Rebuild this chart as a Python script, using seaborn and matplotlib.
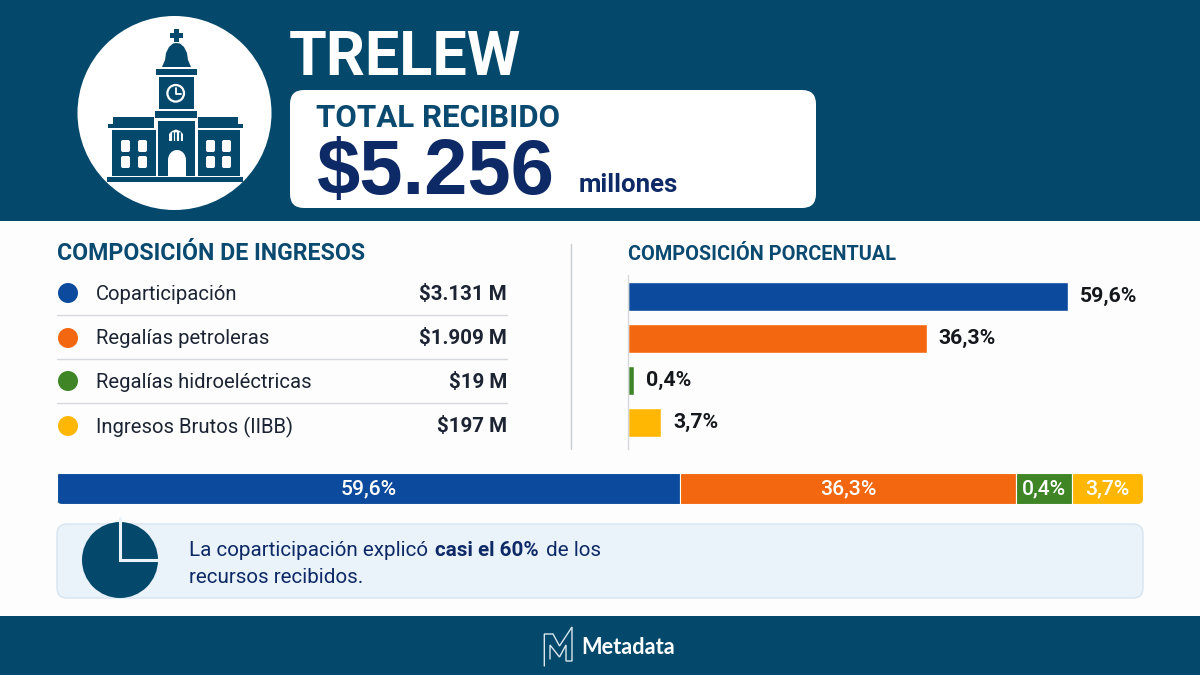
import numpy as np
import matplotlib
matplotlib.use("Agg")
import matplotlib.pyplot as plt
import seaborn as sns
from matplotlib.patches import Circle, Rectangle, FancyBboxPatch, Polygon, Ellipse

# data
categories = ["Coparticipación", "Regalías petroleras", "Regalías hidroeléctricas", "Ingresos Brutos (IIBB)"]
amounts = ["$3.131 M", "$1.909 M", "$19 M", "$197 M"]
pct_labels = ["59,6%", "36,3%", "0,4%", "3,7%"]
# bar lengths as drawn in the source (they are not to scale with the labels)
bar_lengths = [59.6, 40.5, 0.8, 4.5]
strip_lengths = [57.4, 30.9, 5.2, 6.5]
colors = ["#0B4A9C", "#F2670F", "#3F8526", "#FFB703"]

NAVY = "#04496B"
INK = "#0E2A66"
BG = "#FDFDFD"
ROBOTO = ["Roboto", "DejaVu Sans"]

sns.set_theme(style="white")
plt.rcParams["font.family"] = ["Inter", "DejaVu Sans"]

fig = plt.figure(figsize=(12, 6.75), dpi=100, facecolor=BG)


def px_axes(x0, y0, x1, y1):
    # axes from pixel box, y measured from the top
    return fig.add_axes([x0 / 1200, 1 - y1 / 675, (x1 - x0) / 1200, (y1 - y0) / 675])


bg = fig.add_axes([0, 0, 1, 1], zorder=0)
bg.set_xlim(0, 1200)
bg.set_ylim(675, 0)
bg.axis("off")

# header, footer
bg.add_patch(Rectangle((0, 0), 1200, 221, fc=NAVY, ec="none"))
bg.add_patch(Rectangle((0, 616), 1200, 59, fc=NAVY, ec="none"))

# building icon
bg.add_patch(Circle((174.5, 113), 97, fc="white", ec="none"))
blocks = [
    (107, 177, 136, 5), (108, 124, 46, 4), (113, 117, 41, 7), (112, 130, 44, 46),
    (198, 124, 45, 4), (198, 117, 40, 7), (198, 130, 42, 46),
    (158, 121, 37, 55), (155, 111, 42, 7), (159, 77, 35, 32), (156, 69, 41, 6),
    (174, 29, 5, 13), (170, 33, 13, 5),
]
for x, y, w, h in blocks:
    bg.add_patch(Rectangle((x, y), w, h, fc=NAVY, ec="none"))
bg.add_patch(Polygon([(162, 67), (165, 60), (166, 53), (169, 47), (173, 43.5), (176, 43), (180, 43.5),
                      (184, 47), (187, 53), (188, 60), (191, 67)], fc=NAVY, ec="none"))
for wx in [121, 138, 206, 222]:
    for wy in [140, 156]:
        bg.add_patch(FancyBboxPatch((wx + 2, wy + 2), 5, 8, boxstyle="round,pad=2", fc="white", ec="none"))
# door and small arch
bg.add_patch(Rectangle((168, 160), 18, 16, fc="white", ec="none"))
bg.add_patch(Ellipse((177, 160), 18, 20, fc="white", ec="none"))
bg.add_patch(Polygon([(169, 141), (169, 134), (172, 131), (176, 129.5), (180, 131), (183, 134), (183, 141)],
                     fc="white", ec="none"))
for hx in [172.5, 176, 179.5]:
    bg.plot([hx, hx], [133, 142], color=NAVY, lw=1.3)
# clock
bg.add_patch(Circle((175.7, 93.3), 8.3, fc=NAVY, ec="white", lw=1.6))
bg.plot([175.7, 175.7, 180.5], [88, 94, 94], color="white", lw=1.3)

# title and total box
bg.text(289, 75, "TRELEW", fontsize=44, fontweight="bold", color="white", family=ROBOTO)
bg.add_patch(FancyBboxPatch((304, 104), 498, 90, boxstyle="round,pad=14,rounding_size=14", fc="white", ec="none"))
bg.text(316, 127, "TOTAL RECIBIDO", fontsize=22.5, fontweight="bold", color="#0B4A70", family=ROBOTO)
bg.text(317, 194, "$5.256", fontsize=56, fontweight="bold", color=INK, family=["Liberation Sans", "DejaVu Sans"])
bg.text(579, 192, "millones", fontsize=18.5, fontweight="bold", color=INK, family=ROBOTO)

# left list
bg.text(57, 260, "COMPOSICIÓN DE INGRESOS", fontsize=16.7, fontweight="bold", color="#0B4A70", family=ROBOTO)
bg.text(628, 260, "COMPOSICIÓN PORCENTUAL", fontsize=14.3, fontweight="bold", color="#0B4A70", family=ROBOTO)
row_y = [294, 339, 382, 427]
for i, name in enumerate(categories):
    bg.add_patch(Circle((68, row_y[i] - 1), 10, fc=colors[i], ec="none"))
    bg.text(96, row_y[i], name, fontsize=14.6, color="#1C2433", va="center", family=ROBOTO)
    bg.text(507, row_y[i], amounts[i], fontsize=14.8, fontweight="bold", color="#1C2433", va="center", ha="right",
            family=ROBOTO)
for sy in [315, 359, 403]:
    bg.plot([57, 507], [sy, sy], color="#D5D8DC", lw=1)
bg.plot([571, 571], [244, 449], color="#C9CCD0", lw=1)

# note panel with pie icon
bg.add_patch(FancyBboxPatch((65, 532), 1070, 58, boxstyle="round,pad=8,rounding_size=10", fc="#EAF2FA", ec="#D6E4F0", lw=1))
bg.add_patch(Circle((120, 560), 38, fc=NAVY, ec="none"))
bg.plot([120, 120, 159], [518, 560, 560], color="#EAF2FA", lw=2.2, solid_joinstyle="miter")
bg.text(189, 556, "La coparticipación explicó", fontsize=14.9, color=INK, family=ROBOTO)
bg.text(435, 556, "casi el 60%", fontsize=14.9, fontweight="bold", color=INK, family=ROBOTO)
bg.text(546, 556, "de los", fontsize=14.9, color=INK, family=ROBOTO)
bg.text(189, 583, "recursos recibidos.", fontsize=14.9, color=INK, family=ROBOTO)

# footer logo
logo_x = [544.3, 544.3, 553, 559.5, 572, 572, 566, 566, 559.5, 550, 550]
logo_y = [666, 634, 634, 646, 627, 661, 661, 645, 657, 645, 659]
bg.plot(logo_x, logo_y, color="#D9E6EE", lw=1, solid_joinstyle="miter")
bg.text(581, 648, "Metadata", fontsize=15.7, fontweight="bold", color="white", va="center", family=["Lato", "DejaVu Sans"])

# percent bars
ax = px_axes(628, 275, 1143, 449)
ax.patch.set_alpha(0)
sns.barplot(x=bar_lengths, y=categories, hue=categories, palette=colors, legend=False,
            saturation=1, width=0.69, ax=ax)
ax.set_xlim(0, 515 / 7.38)
ax.set_ylim(3.64, -0.5)
ax.set_xticks([])
ax.set_yticks([])
ax.set_xlabel("")
ax.set_ylabel("")
sns.despine(ax=ax, left=False, bottom=True)
ax.spines["left"].set_color("#D5D8DC")
ax.spines["left"].set_linewidth(1)
for cont, lab in zip(ax.containers, pct_labels):
    ax.bar_label(cont, labels=[lab], padding=8.5, fontsize=15.3, fontweight="bold", color="#14171C", family=ROBOTO)

# stacked strip
strip = px_axes(57, 473, 1143, 504)
strip.patch.set_alpha(0)
strip.axis("off")
lefts = np.cumsum([0] + strip_lengths[:-1])
clip = FancyBboxPatch((59, 475), 1082, 27, boxstyle="round,pad=2,rounding_size=5", transform=bg.transData,
                      fc="none", ec="none")
fig.add_artist(clip)
for left, length, col, lab in zip(lefts, strip_lengths, colors, pct_labels):
    sns.barplot(x=[length], y=["total"], left=[left], color=col, saturation=1, width=1, ax=strip,
                edgecolor="white", linewidth=0.8)
    strip.text(left + length / 2, 0, lab, ha="center", va="center", fontsize=15.2, fontweight="medium", color="white",
               family=ROBOTO)
strip.set_xlim(0, 100)
strip.set_ylim(0.5, -0.5)
for p in strip.patches:
    p.set_clip_path(clip)

fig.savefig("out.png", dpi=100, facecolor=BG)
